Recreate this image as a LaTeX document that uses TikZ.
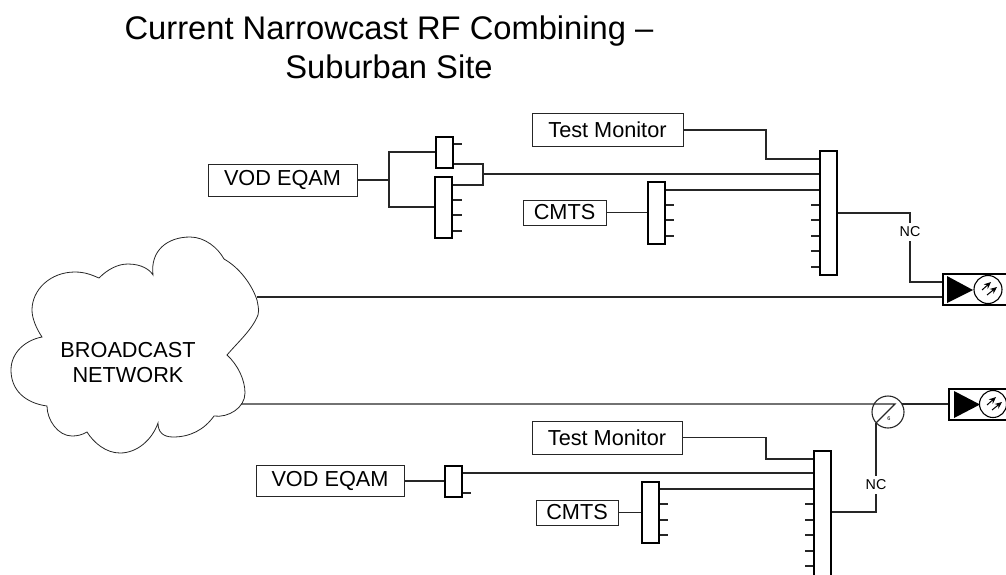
\documentclass[tikz,border=0pt]{standalone}
\usepackage{fontspec}
\setmainfont{Liberation Sans}
\usetikzlibrary{arrows.meta}
\tikzset{
  conn/.style={line width=1.1pt,draw=black!85},
  labelbox/.style={draw=black!85,line width=1pt,inner sep=0pt,font=\fontsize{21.7}{25}\selectfont},
  splitbox/.style={draw=black,line width=2pt,fill=white,inner sep=0pt},
  nclabel/.style={inner sep=0pt,minimum width=22pt,minimum height=18pt,font=\fontsize{14.3}{16}\selectfont},
  hubbox/.style={draw=black,line width=2pt,inner sep=0pt},
  hubcircle/.style={circle,draw=black,line width=1.1pt,fill=white,inner sep=0pt,minimum size=28pt},
  hubarrow/.style={line width=1pt,-{Stealth[length=7pt,width=6pt]}},
}
\begin{document}
\begin{tikzpicture}[x=1pt,y=-1pt]
\path[use as bounding box] (0,0) rectangle (1006,574);
\clip (0,0) rectangle (1006,574);
% title
\node[anchor=base,inner sep=0pt,align=center,font=\fontsize{32.7}{39}\selectfont] (title) at (389,78)
  {Current Narrowcast RF Combining \symbol{"2013}\\Suburban Site};
% cloud
\draw[line width=0.8pt,draw=black!85] (99,278)
 .. controls (108,269) and (118,264) .. (128,264)
 .. controls (142,264) and (150,270) .. (153,275)
 .. controls (150,250) and (168,237) .. (190,237)
 .. controls (205,237) and (218,248) .. (224,259)
 .. controls (240,268) and (252,285) .. (257,300)
 .. controls (259,310) and (259,312) .. (258,315)
 .. controls (252,330) and (238,342) .. (227,355)
 .. controls (238,365) and (245,380) .. (245,393)
 .. controls (245,408) and (228,418) .. (214,416)
 .. controls (204,430) and (190,437) .. (173,437)
 .. controls (163,437) and (158,432) .. (158,423)
 .. controls (152,440) and (137,453) .. (120,453)
 .. controls (106,453) and (94,443) .. (87,432)
 .. controls (82,435) and (77,436) .. (72,436)
 .. controls (58,436) and (47,420) .. (47,406)
 .. controls (25,403) and (11,390) .. (11,370)
 .. controls (11,352) and (26,340) .. (42,337)
 .. controls (36,328) and (32,318) .. (32,310)
 .. controls (32,290) and (50,272) .. (75,272)
 .. controls (85,272) and (92,275) .. (99,278) -- cycle;
\node[inner sep=0pt,align=center,font=\fontsize{21.7}{25}\selectfont] (cloudtext) at (128,363) {BROADCAST\\NETWORK};
\coordinate (cloudA) at (257,297);
\coordinate (cloudB) at (241,404);

% ---- upper group
\node[labelbox,minimum width=149pt,minimum height=32pt] (vodA) at (282.5,180) {VOD EQAM};
\node[labelbox,minimum width=151pt,minimum height=33pt] (testA) at (607.5,130) {Test Monitor};
\node[labelbox,minimum width=83pt,minimum height=25pt] (cmtsA) at (564.5,212.5) {CMTS};
\node[splitbox,minimum width=17pt,minimum height=31pt] (twoA) at (444.5,152.5) {};
\node[splitbox,minimum width=17pt,minimum height=61pt] (fourA) at (443.5,207.5) {};
\node[splitbox,minimum width=17pt,minimum height=62pt] (cmtssA) at (656.5,213) {};
\node[splitbox,minimum width=17pt,minimum height=124pt] (bigA) at (828.5,213) {};
\node[nclabel] (ncA) at (910,232) {NC};
\node[hubbox,minimum width=80pt,minimum height=31pt] (hubA) at (983,289.5) {};
\fill (947,276) -- (973,290) -- (947,303) -- cycle;
\node[hubcircle] (dishA) at (988,289.5) {};
\draw[hubarrow] (982,290) -- (991,282);
\draw[hubarrow] (987,295) -- (997,287);

\coordinate (forkA) at (389,180);
\coordinate (joinA) at (483,174);
\coordinate (testbendA) at (766,130);
\draw[conn] (vodA.east |- forkA) -- (forkA);
\draw[conn] (twoA.west |- 0,152) -| (forkA);
\draw[conn] (fourA.west |- 0,207) -| (forkA);
\draw[conn] (twoA.east |- 0,144) -- ++(8,0);
\draw[conn] (twoA.east |- 0,164) -| (joinA);
\draw[conn] (fourA.east |- 0,185) -| (joinA);
\foreach \yy in {200,215,231} \draw[conn] (fourA.east |- 0,\yy) -- ++(9,0);
\draw[conn] (joinA) -- (bigA.west |- joinA);
\draw[conn] (testA.east) -- (testbendA) |- (bigA.west |- 0,159);
\draw[conn] (cmtsA.east) -- (cmtssA.west |- cmtsA.east);
\draw[conn] (cmtssA.east |- 0,190) -- (bigA.west |- 0,190);
\foreach \yy in {205,220,236} \draw[conn] (cmtssA.east |- 0,\yy) -- ++(8,0);
\foreach \yy in {205,220,236,251,267} \draw[conn] (bigA.west |- 0,\yy) -- ++(-8,0);
\draw[conn] (bigA.east) -| (ncA.north);
\draw[conn] (ncA.south) |- (hubA.west |- 0,282);
\draw[conn] (cloudA) -- (hubA.west |- cloudA);

% ---- lower group
\node[labelbox,minimum width=148pt,minimum height=31pt] (vodB) at (330,481) {VOD EQAM};
\node[labelbox,minimum width=150pt,minimum height=33pt] (testB) at (607,437.5) {Test Monitor};
\node[labelbox,minimum width=82pt,minimum height=25pt] (cmtsB) at (577,512.5) {CMTS};
\node[splitbox,minimum width=17pt,minimum height=31pt] (twoB) at (453.5,481.5) {};
\node[splitbox,minimum width=17pt,minimum height=61pt] (cmtssB) at (650.5,512.5) {};
\node[splitbox,minimum width=17pt,minimum height=160pt] (bigB) at (822.5,531) {};
\node[nclabel] (ncB) at (876,485) {NC};
\node[hubbox,minimum width=74pt,minimum height=31pt] (hubB) at (986,404.5) {};
\fill (954,391) -- (980,404.5) -- (954,418) -- cycle;
\node[hubcircle,minimum size=27pt] (dishB) at (993,404) {};
\draw[hubarrow] (987,405) -- (996,397);
\draw[hubarrow] (992,410) -- (1002,402);
\node[circle,draw=black!85,line width=1.1pt,inner sep=0pt,minimum size=32pt] (tapB) at (888,412) {};
\coordinate (tiptap) at (895,404);
\coordinate (tailtap) at (876,423);
\coordinate (rimtap) at (902,404);
\draw[conn] (cloudB) -- (tiptap) -- (tailtap);
\draw[conn] (rimtap) -- (hubB.west |- rimtap);
\node[inner sep=0pt,font=\fontsize{5.5}{6}\selectfont] (tapsix) at (889,419) {6};
\coordinate (testbendB) at (766,437.5);
\draw[conn] (vodB.east) -- (twoB.west |- vodB.east);
\draw[conn] (twoB.east |- 0,473) -- (bigB.west |- 0,473);
\draw[conn] (twoB.east |- 0,493) -- ++(8,0);
\draw[conn] (testB.east) -- (testbendB) |- (bigB.west |- 0,459);
\draw[conn] (cmtsB.east) -- (cmtssB.west |- cmtsB.east);
\draw[conn] (cmtssB.east |- 0,489) -- (bigB.west |- 0,489);
\foreach \yy in {504,520,535} \draw[conn] (cmtssB.east |- 0,\yy) -- ++(8,0);
\foreach \yy in {504,520,535,551,566} \draw[conn] (bigB.west |- 0,\yy) -- ++(-8,0);
\draw[conn] (bigB.east |- 0,512) -| (ncB.south);
\draw[conn] (ncB.north) -- (tailtap);
\end{tikzpicture}
\end{document}
